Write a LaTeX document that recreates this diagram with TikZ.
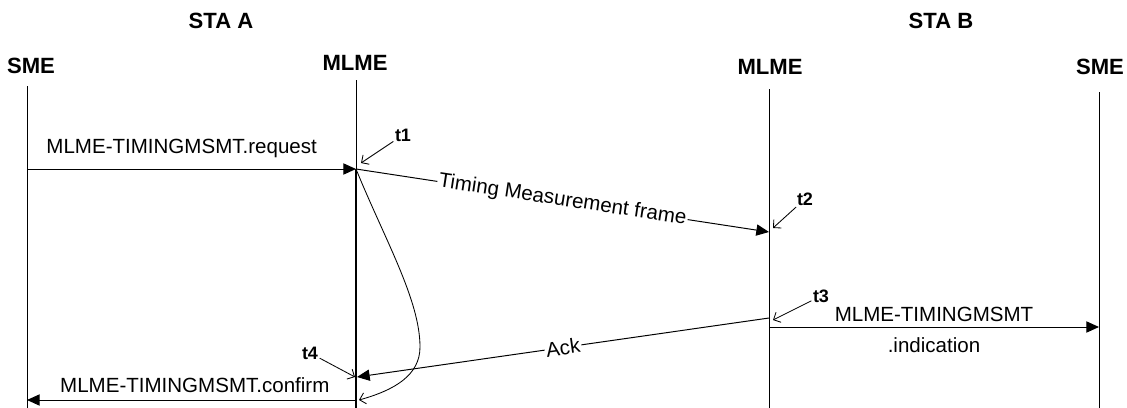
\documentclass[tikz,border=0pt]{standalone}
\usepackage{fontspec}
\setmainfont{Liberation Sans}
\usepackage{tikz}
\usetikzlibrary{arrows.meta}
\usetikzlibrary{positioning}

\tikzset{
	msg/.style={-{Triangle[length=9pt,width=8pt]}, line width=0.7pt},
	tmark/.style={-{Straight Barb[length=4pt,width=8pt]}, line width=0.6pt},
	lifeline/.style={line width=0.7pt},
	hdr/.style={font=\bfseries\fontsize{15.7}{18}\selectfont},
	txt/.style={font=\fontsize{14.6}{17}\selectfont},
	tlab/.style={font=\bfseries\fontsize{12.8}{15}\selectfont, inner sep=1pt},
}

\begin{document}
\begin{tikzpicture}[x=0.025cm, y=-0.025cm]
	\useasboundingbox (0,0) rectangle (1127,408);
	
	% stations
	\node[hdr] (staA) at (221,21) {STA A};
	\node[hdr] (staB) at (941,21) {STA B};
	
	% entities
	\node[hdr] (smeA) at (31,66) {SME};
	\node[hdr] (mlmeA) at (355,63) {MLME};
	\node[hdr] (mlmeB) at (770,67) {MLME};
	\node[hdr] (smeB) at (1100,67) {SME};
	
	% lifelines
	\foreach \n/\x/\y in {smeA/27/86, mlmeA/356/80, mlmeB/769/89, smeB/1099/92} {
		\coordinate (\n-top) at (\x,\y);
		\coordinate (\n-bot) at (\x,408);
		\draw[lifeline] (\n-top) -- (\n-bot);
	}
	
	% events
	\coordinate (reqS) at (27,169);
	\coordinate (t1p) at (356,169);
	\coordinate (t2p) at (769,232);
	\coordinate (t3p) at (769,318);
	\coordinate (t4p) at (357,377);
	\coordinate (indS) at (769,327);
	\coordinate (indE) at (1099,327);
	\coordinate (cfS) at (356,400);
	\coordinate (cfE) at (27,400);
	\coordinate (loopE) at (359,400);
	\coordinate (bend) at (420,347);
	
	% busy part of MLME A
	\draw[line width=1.6pt] (t1p) -- (mlmeA-bot);
	
	% messages
	\draw[msg] (reqS) -- (t1p) node[txt, pos=0.47, anchor=base, yshift=10.7pt] {MLME-TIMINGMSMT.request};
	\draw[msg] (t1p) -- (t2p) node[txt, midway, sloped, fill=white, inner sep=1pt] {Timing Measurement frame};
	\draw[msg] (t3p) -- (t4p) node[txt, midway, sloped, fill=white, inner sep=1pt] {Ack};
	\draw[msg] (indS) -- (indE)
		node[txt, midway, anchor=base, yshift=3.6pt] {MLME-TIMINGMSMT}
		node[txt, midway, anchor=base, yshift=-17.8pt] {.indication};
	\draw[msg] (cfS) -- (cfE) node[txt, pos=0.49, anchor=base, yshift=5pt] {MLME-TIMINGMSMT.confirm};
	
	% t1 to t4 loop
	\draw[tmark] (t1p) .. controls (385,240) and (420,300) .. (bend)
		.. controls (420,375) and (395,390) .. (loopE);
	
	% time stamps
	\node[tlab] (t1) at (403,135) {t1};
	\node[tlab] (t2) at (805,199) {t2};
	\node[tlab] (t3) at (821,296) {t3};
	\node[tlab] (t4) at (310,353) {t4};
	\coordinate (t1tip) at (361,163);
	\coordinate (t2tip) at (773,228);
	\coordinate (t3tip) at (773,320);
	\coordinate (t4tip) at (355,377);
	\foreach \t in {t1,t2,t3,t4}
		\draw[tmark] (\t) -- (\t tip);
\end{tikzpicture}
\end{document}
